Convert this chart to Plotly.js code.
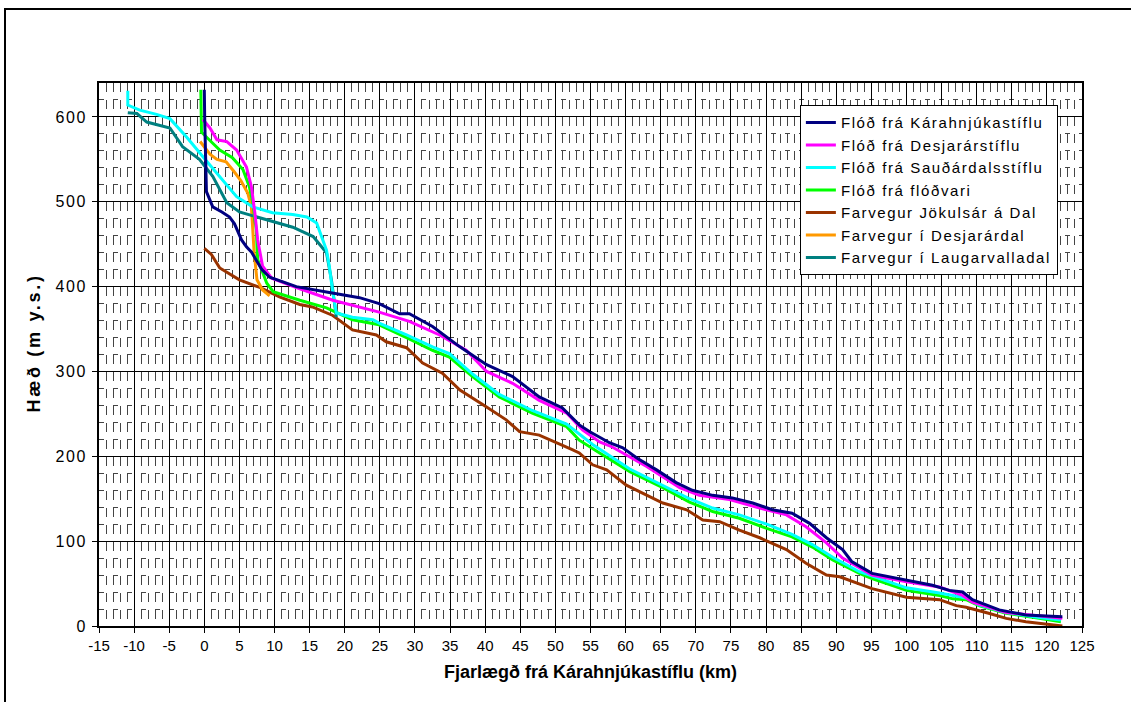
<!DOCTYPE html>
<html>
<head>
<meta charset="utf-8">
<script src="https://cdn.plot.ly/plotly-3.0.1.min.js"></script>
<style>
html,body{margin:0;padding:0;background:#fff;}
#frame{position:absolute;left:4px;top:8px;width:1300px;height:900px;border-left:2px solid #000;border-top:2px solid #000;}
#chart{position:absolute;left:0;top:0;width:1131px;height:702px;}
.legendtext{letter-spacing:1.6px;}
.ytick text{letter-spacing:1.5px;}
.ytitle{letter-spacing:2.7px;}
</style>
</head>
<body>
<div id="frame"></div>
<div id="chart"></div>
<script>
// Flóð frá Kárahnjúkastíflu
const kX = [0, 0.05, 0.3, 1.2, 2.5, 3.6, 4.3, 5.3, 6.0, 6.7, 7.4, 8.2, 9.3, 10.7, 13.1, 17.8, 22.1, 24.9, 27.8, 29.2, 32.5, 36.4, 40.2, 43.9, 47.7, 51.0, 53.4, 54.9, 57.7, 59.6, 61.6, 64.4, 67.2, 69.5, 72.4, 75.2, 78.1, 80.9, 83.7, 86.2, 88.6, 90.9, 92.2, 95.1, 100.0, 103.7, 106.1, 108.0, 109.4, 113.2, 117.0, 122.2];
const kY = [632, 600, 512, 494, 488, 482, 474, 455, 447, 441, 431, 420, 411, 407, 400, 393, 387, 380, 368, 368, 353, 329, 308, 294, 270, 257, 237, 229, 216, 210, 198, 184, 169, 160, 154, 151, 145, 137, 133, 121, 104, 90, 76, 62, 54, 48, 42, 40, 31, 19, 13, 11];
// Flóð frá Desjarárstíflu
const dX = [-0.2, 0.8, 1.8, 3.2, 4.6, 6.0, 6.7, 7.2, 7.6, 8.3, 9.6, 13.1, 18.3, 24.9, 29.2, 33.5, 37.3, 40.2, 43.9, 47.7, 51.6, 53.9, 56.3, 58.1, 63.0, 67.7, 70.5, 74.8, 79.1, 82.9, 85.7, 88.6, 90.9, 93.3, 95.1, 100, 104.7, 108, 109.4, 114.2, 122.2];
const dY = [597, 587, 573, 571, 561, 541, 518, 487, 455, 424, 410, 399, 384, 370, 359, 343, 325, 300, 286, 266, 251, 231, 217, 211, 188, 163, 154, 149, 139, 131, 117, 98, 80, 68, 60, 52, 46, 36, 28, 16, 9];
// Flóð frá Sauðárdalsstíflu
const sX = [-10.9, -10.9, -9.2, -6.8, -4.9, -2.5, -0.2, 2.2, 4.6, 6.9, 9.7, 12.6, 14.6, 16.0, 17.4, 17.8, 18.3, 18.8, 21.1, 24.0, 24.9, 28.8, 32.5, 34.9, 38.2, 42.0, 46.7, 51.6, 55.3, 60.6, 65.3, 69.1, 72.4, 76.2, 80.1, 83.7, 86.6, 89.5, 93.3, 95.1, 100, 104.7, 108.5, 110.3, 114.2, 118.9, 122];
const sY = [631, 614, 608, 603, 598, 576, 553, 529, 506, 494, 487, 485, 482, 475, 443, 424, 393, 369, 364, 361, 357, 343, 329, 321, 297, 273, 254, 238, 214, 185, 166, 150, 139, 131, 120, 108, 96, 81, 64, 59, 45, 39, 33, 25, 16, 10, 7];
// Flóð frá flóðvari
const fX = [-0.5, -0.4, 1.2, 2.2, 4.0, 5.5, 6.4, 6.9, 7.4, 7.6, 8.9, 9.8, 13.6, 17.4, 21.1, 24.9, 28.8, 32.5, 34.9, 38.2, 42.0, 46.7, 51.6, 53.4, 56.3, 60.6, 65.3, 69.1, 72.4, 76.2, 80.1, 83.7, 86.6, 89.5, 93.3, 95.1, 100, 104.7, 106.6, 108.5, 110.3, 114.2, 118.9, 122];
const fY = [632, 582, 569, 561, 552, 538, 518, 499, 467, 432, 404, 394, 384, 375, 361, 355, 340, 325, 317, 294, 270, 251, 235, 219, 204, 182, 163, 146, 135, 127, 115, 105, 93, 78, 62, 56, 42, 36, 32, 31, 24, 15, 9, 5];
// Farvegur Jökulsár á Dal
const jX = [0, 1.0, 2.2, 5.0, 7.9, 10.7, 13.6, 15.4, 18.3, 21.1, 24.5, 25.9, 28.8, 31.1, 33.9, 36.4, 40.2, 43.0, 44.9, 47.7, 52.4, 53.4, 55.3, 57.3, 60.1, 63.0, 65.3, 68.7, 71.0, 73.4, 76.2, 79.1, 82.9, 85.7, 88.6, 90.5, 91.9, 95.1, 100, 104.7, 107.1, 108.5, 111.7, 114.2, 117, 118.9, 122.2];
const jY = [445, 438, 422, 408, 399, 388, 379, 376, 366, 349, 343, 335, 328, 310, 298, 278, 258, 243, 229, 225, 208, 204, 190, 184, 166, 154, 145, 137, 125, 123, 113, 104, 90, 74, 60, 58, 54, 44, 34, 31, 24, 22, 15, 9, 5, 3, 0];
// Farvegur í Desjarárdal
const ddX = [-0.6, 0.8, 1.8, 3.1, 4.2, 5.2, 6.2, 6.7, 6.9, 7.1, 7.5, 8.3, 9.3];
const ddY = [571, 556, 550, 547, 536, 525, 510, 494, 467, 440, 408, 396, 389];
// Farvegur í Laugarvalladal
const lX = [-10.9, -9.6, -8.2, -4.9, -3.1, -0.7, 1.2, 3.2, 5.0, 7.9, 10.7, 12.6, 15.5, 17.4, 18.1, 18.8];
const lY = [605, 604, 594, 587, 565, 550, 530, 499, 488, 481, 475, 470, 459, 440, 408, 364];

const names = ["Flóð frá Kárahnjúkastíflu", "Flóð frá Desjarárstíflu", "Flóð frá Sauðárdalsstíflu", "Flóð frá flóðvari", "Farvegur Jökulsár á Dal", "Farvegur í Desjarárdal", "Farvegur í Laugarvalladal"];
const colors = ["#000080", "#FF00FF", "#00FFFF", "#00FF00", "#993300", "#FF9900", "#008080"];
const xs = [kX, dX, sX, fX, jX, ddX, lX];
const ys = [kY, dY, sY, fY, jY, ddY, lY];

const xTicks = [-15,-10,-5,0,5,10,15,20,25,30,35,40,45,50,55,60,65,70,75,80,85,90,95,100,105,110,115,120,125];
const yTicks = [0,100,200,300,400,500,600];

// draw order: channels first, then floods
const order = [4,5,6,3,2,1,0];
const traces = order.map(i => ({
  x: xs[i], y: ys[i], name: names[i], type: 'scatter', mode: 'lines',
  line: {color: colors[i], width: 3, shape: 'linear'},
  legendrank: i + 1
}));

const F = 'Liberation Sans, Arial, sans-serif';
const layout = {
  width: 1131, height: 702,
  margin: {l: 99, r: 49, t: 83, b: 76},
  paper_bgcolor: 'rgba(0,0,0,0)', plot_bgcolor: '#fff',
  font: {family: F, size: 15, color: '#000'},
  showlegend: true,
  legend: {x: 0.713, y: 0.959, xanchor: 'left', yanchor: 'top', bgcolor: '#fff', bordercolor: '#000', borderwidth: 1, font: {family: F, size: 15}, traceorder: 'normal', tracegroupgap: 0},
  xaxis: {
    range: [-15, 125], tickvals: xTicks, ticktext: xTicks.map(String),
    showgrid: true, gridcolor: '#000', gridwidth: 1,
    showline: true, linecolor: '#000', linewidth: 2, mirror: true,
    ticks: 'outside', ticklen: 5, tickcolor: '#000', zeroline: false,
    tickfont: {family: F, size: 15},
    minor: {dtick: 1, showgrid: true, gridcolor: '#444', gridwidth: 1, griddash: '9px,8px', ticks: ''},
    title: {text: '<b>Fjarlægð frá Kárahnjúkastíflu (km)</b>', font: {family: F, size: 18}, standoff: 12}
  },
  yaxis: {
    range: [0, 640], tickvals: yTicks, ticktext: yTicks.map(String),
    showgrid: true, gridcolor: '#000', gridwidth: 1,
    showline: true, linecolor: '#000', linewidth: 2, mirror: true,
    ticks: 'outside', ticklen: 5, tickcolor: '#000', zeroline: false,
    tickfont: {family: F, size: 16}, ticklabelstandoff: 2,
    minor: {dtick: 20, showgrid: true, gridcolor: '#444', gridwidth: 1, griddash: '5px,9px', ticks: ''},
    title: {text: '<b>&nbsp;&nbsp;&nbsp;Hæð (m y.s.)</b>', font: {family: F, size: 18}, standoff: 10}
  }
};
Plotly.newPlot('chart', traces, layout, {staticPlot: true, displayModeBar: false});
</script>
</body>
</html>
